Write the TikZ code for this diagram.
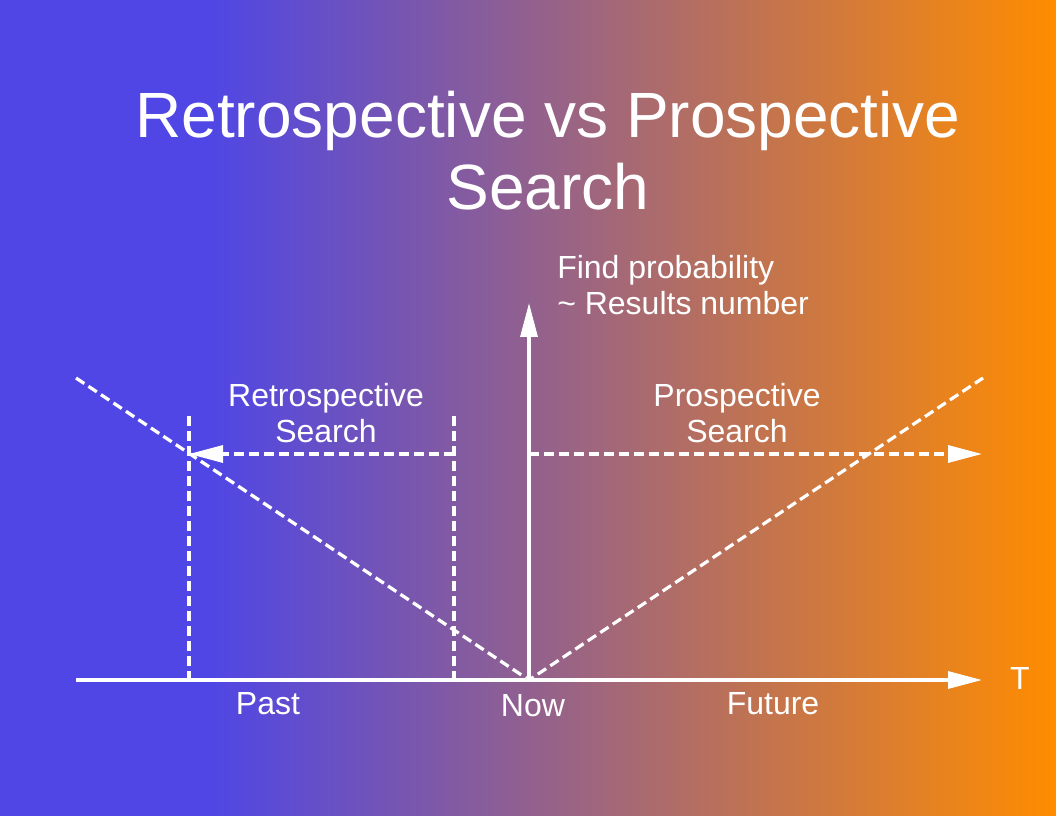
\documentclass[tikz,border=0pt]{standalone}
\usepackage{fontspec}
\setmainfont{Liberation Sans}
\usetikzlibrary{arrows.meta}
\definecolor{bgleft}{HTML}{4F46E5}
\definecolor{bgright}{HTML}{FF8C00}
\tikzset{
  axisline/.style={draw=white, line width=2.4pt},
  dashline/.style={draw=white, line width=2.4pt, dash pattern=on 7.5pt off 3.75pt},
  tipped/.style={-{Triangle[length=25.5pt,width=12.75pt]}},
  lbl/.style={text=white, font=\fontsize{24}{27}\selectfont, inner sep=0pt, align=center},
  ttl/.style={text=white, font=\fontsize{48}{54}\selectfont, inner sep=0pt, align=center}
}
\begin{document}
\begin{tikzpicture}[x=0.75pt, y=-0.75pt]
\useasboundingbox (0,0) rectangle (1056,816);
\fill[bgleft] (0,0) rectangle (211,816);
\shade[left color=bgleft, right color=bgright] (210,0) rectangle (1056,816);

\node[ttl, anchor=base] (title) at (548,210) {Retrospective vs Prospective\\Search};

\coordinate (now) at (529,680);
\coordinate (xstart) at (76,680);
\coordinate (xend) at (982,680);
\coordinate (yend) at (529,303);
\coordinate (lefttop) at (76,378);
\coordinate (righttop) at (983,378);
\coordinate (p1top) at (189,416);
\coordinate (p1bot) at (189,680);
\coordinate (p2top) at (454,416);
\coordinate (p2bot) at (454,680);
\coordinate (retroA) at (454,454);
\coordinate (retroB) at (189,454);
\coordinate (prosA) at (529,454);
\coordinate (prosB) at (982,454);

\draw[dashline] (lefttop) -- (now) -- (righttop);
\draw[dashline] (p1top) -- (p1bot);
\draw[dashline] (p2top) -- (p2bot);
\draw[dashline, tipped] (retroA) -- (retroB);
\draw[dashline, tipped] (prosA) -- (prosB);
\draw[axisline, tipped] (xstart) -- (xend);
\draw[axisline, tipped] (now) -- (yend);

\node[lbl, anchor=base] (retro) at (326,442) {Retrospective\\Search};
\node[lbl, anchor=base] (pros) at (737,442) {Prospective\\Search};
\node[lbl, anchor=base west, align=left] (yl) at (557,315) {Find probability\\\textasciitilde{} Results number};
\node[lbl, anchor=base] (past) at (268,714) {Past};
\node[lbl, anchor=base] (nowl) at (533,716) {Now};
\node[lbl, anchor=base] (fut) at (773,714) {Future};
\node[lbl, anchor=base] (tl) at (1020,689) {T};
\end{tikzpicture}
\end{document}
